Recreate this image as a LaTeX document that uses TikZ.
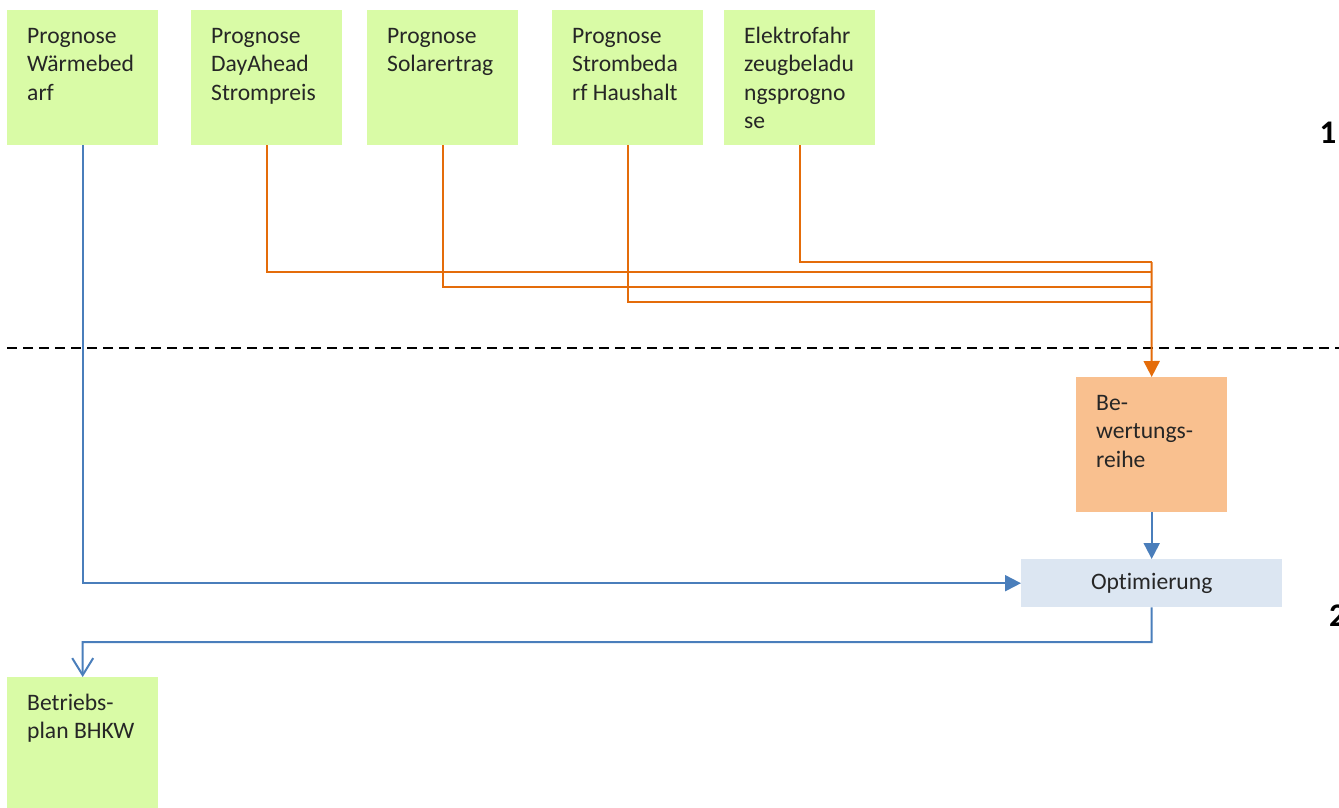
\documentclass[tikz,border=0pt]{standalone}
\usepackage{fontspec}
\setmainfont{Carlito}[Ligatures=NoCommon]
\usetikzlibrary{arrows.meta}
\definecolor{boxgreen}{RGB}{217,251,166}
\definecolor{boxorange}{RGB}{249,192,143}
\definecolor{boxblue}{RGB}{220,230,242}
\definecolor{lineblue}{RGB}{74,126,187}
\definecolor{lineorange}{RGB}{228,108,10}
\tikzset{
  card/.style={anchor=north west, inner xsep=20pt, inner ysep=0pt,
    text width=111pt, align=flush left, text height=33pt, text depth=102pt,
    font=\fontsize{23.6}{28.5}\selectfont, text=black!85},
  inputbox/.style={card, fill=boxgreen},
  ratebox/.style={card, fill=boxorange},
  optbox/.style={anchor=north west, fill=boxblue, minimum width=261pt,
    minimum height=48pt, inner sep=0pt,
    font=\fontsize{23.6}{28.5}\selectfont, text=black!85},
  bluewire/.style={draw=lineblue, line width=2pt},
  orangewire/.style={draw=lineorange, line width=2pt},
  solidtip/.style={-{Triangle[length=16pt,width=16pt]}},
  opentip/.style={-{Straight Barb[length=17pt,width=21pt,line width=2pt]}},
  stage/.style={font=\fontsize{33}{36}\selectfont\bfseries, inner sep=0pt}
}
\begin{document}
\begin{tikzpicture}[x=1pt,y=-1pt]
\useasboundingbox (0,0) rectangle (1339,808);

% forecast inputs
\node[inputbox] (waerme) at (7,10) {Prognose\\Wärmebed\\arf};
\node[inputbox] (preis) at (191,10) {Prognose\\DayAhead\\Strompreis};
\node[inputbox] (solar) at (367,10) {Prognose\\Solarertrag};
\node[inputbox] (haushalt) at (552,10) {Prognose\\Strombeda\\rf Haushalt};
\node[inputbox] (efz) at (724,10) {Elektrofahr\\zeugbeladu\\ngsprogno\\se};

% processing
\node[ratebox] (bew) at (1076,377) {Be-\\wertungs-\\reihe};
\node[optbox] (opt) at (1021,559) {Optimierung};
\node[inputbox] (plan) at (7,677) {Betriebs-\\plan BHKW};

% stage numbers
\node[stage] (s1) at (1328,133) {1};
\node[stage, anchor=west] (s2) at (1329,616) {2};

% stage separator
\coordinate (sepL) at (7,348);
\coordinate (sepR) at (1339,348);
\draw[line width=2pt, dash pattern=on 10pt off 6pt] (sepL) -- (sepR);

% junction points of the orange bundle
\coordinate (j5) at (1151.5,262);
\coordinate (j2) at (1151.5,272);
\coordinate (j3) at (1151.5,287);
\coordinate (j4) at (1151.5,302);

\draw[orangewire] (efz.south) |- (j5);
\draw[orangewire] (preis.south) |- (j2);
\draw[orangewire] (solar.south) |- (j3);
\draw[orangewire] (haushalt.south) |- (j4);
\draw[orangewire, solidtip] (j5) -- (bew.north);

% blue flow
\draw[bluewire, solidtip] (waerme.south) |- (opt.west);
\draw[bluewire, solidtip] (bew.south) -- (opt.north);
\coordinate (back) at (1151.5,642);
\draw[bluewire, opentip] (opt.south) -- (back) -| (plan.north);
\end{tikzpicture}
\end{document}
